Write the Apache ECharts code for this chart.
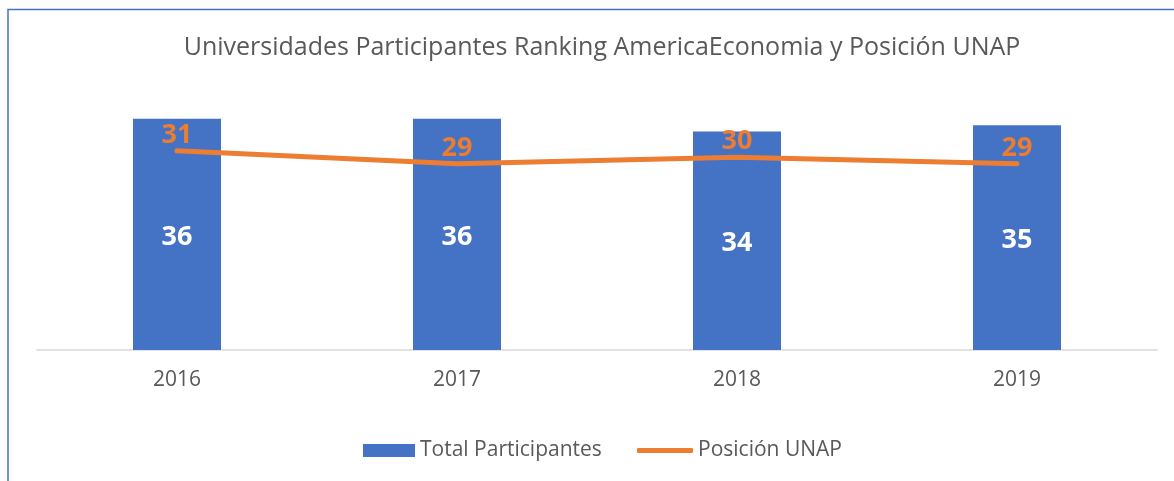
<!DOCTYPE html>
<html>
<head>
<meta charset="utf-8">
<script src="https://cdn.jsdelivr.net/npm/echarts@6/dist/echarts.min.js"></script>
<style>
html,body{margin:0;padding:0;background:#fff;}
#chart{width:1174px;height:481px;}
</style>
</head>
<body>
<div id="chart"></div>
<script>
const titleText = 'Universidades Participantes Ranking AmericaEconomia y Posición UNAP';
const years = ['2016', '2017', '2018', '2019'];
const totalParticipantes = [36, 36, 34, 35];
const posicionUNAP = [31, 29, 30, 29];
const seriesNames = ['Total Participantes', 'Posición UNAP'];

const chart = echarts.init(document.getElementById('chart'));
const legendText = { fontFamily: 'Open Sans', fontSize: 21, color: '#595959' };
chart.setOption({
  animation: false,
  backgroundColor: '#ffffff',
  textStyle: { fontFamily: 'Open Sans' },
  graphic: [{
    type: 'rect',
    shape: { x: 8, y: 9.5, width: 1300, height: 600 },
    style: { fill: 'none', stroke: '#4472C4', lineWidth: 1.5 },
    silent: true
  }],
  title: {
    text: titleText,
    left: 597,
    textAlign: 'center',
    top: 30,
    textStyle: { fontFamily: 'Open Sans', fontSize: 25, fontWeight: 'normal', color: '#595959' }
  },
  legend: [
    {
      left: 358,
      top: 435,
      itemWidth: 52,
      itemHeight: 13,
      icon: 'rect',
      textStyle: legendText,
      data: [seriesNames[0]]
    },
    {
      left: 632,
      top: 435,
      itemWidth: 56,
      itemHeight: 5,
      icon: 'roundRect',
      itemStyle: { color: '#ED7D31', opacity: 1 },
      textStyle: legendText,
      data: [seriesNames[1]]
    }
  ],
  grid: { left: 37, right: 17, top: 93, bottom: 131, containLabel: false },
  xAxis: {
    type: 'category',
    data: years,
    axisLine: { lineStyle: { color: '#d9d9d9', width: 1.5 } },
    axisTick: { show: false },
    axisLabel: { color: '#595959', fontSize: 21, fontFamily: 'Open Sans', margin: 20 }
  },
  yAxis: {
    type: 'value',
    min: 0,
    max: 40,
    show: false,
    splitLine: { show: false }
  },
  series: [
    {
      name: seriesNames[0],
      type: 'bar',
      data: totalParticipantes,
      barWidth: 88,
      itemStyle: { color: '#4472C4' },
      label: {
        show: true,
        position: 'inside',
        offset: [0, 3],
        color: '#ffffff',
        fontSize: 27,
        fontWeight: 'bold',
        fontFamily: 'Open Sans'
      }
    },
    {
      name: seriesNames[1],
      type: 'line',
      data: posicionUNAP,
      symbol: 'circle',
      symbolSize: 2,
      showSymbol: true,
      lineStyle: { color: '#ED7D31', width: 5, cap: 'round', join: 'round' },
      itemStyle: { color: '#ED7D31' },
      label: {
        show: true,
        position: 'top',
        distance: 1,
        color: '#ED7D31',
        fontSize: 27,
        fontWeight: 'bold',
        fontFamily: 'Open Sans'
      },
      labelLayout: { hideOverlap: false },
      z: 3
    }
  ]
});
</script>
</body>
</html>
